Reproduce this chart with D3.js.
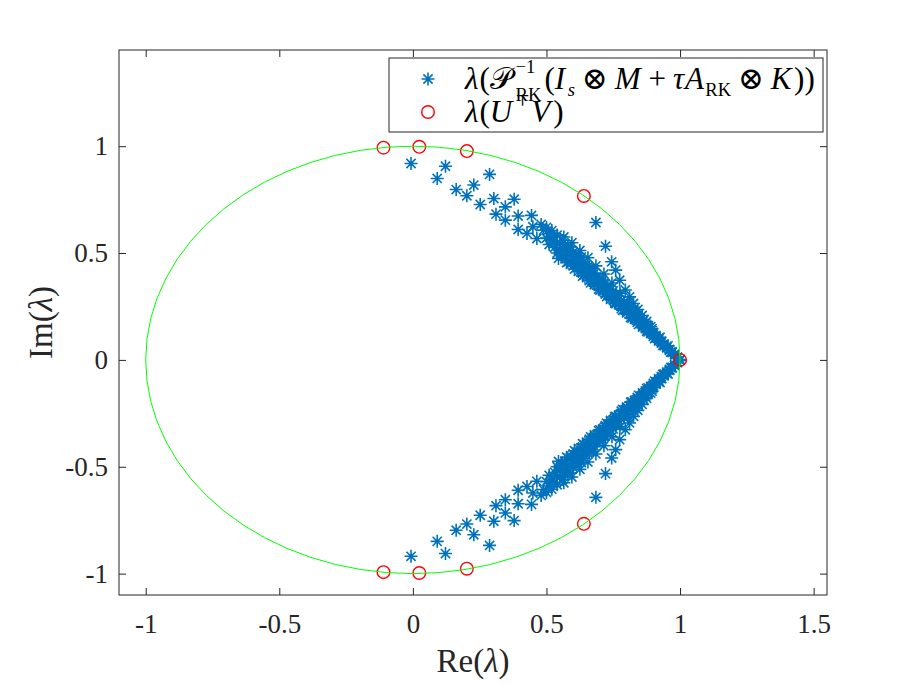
<!DOCTYPE html>
<html><head><meta charset="utf-8">
<script src="https://cdn.jsdelivr.net/npm/d3@7"></script>
<style>body{margin:0;background:#fff}svg{display:block}</style>
</head><body><svg id="c" width="913" height="685"></svg>
<script>
// ---------- data ----------
const xTicks = [-1, -0.5, 0, 0.5, 1, 1.5];
const yTicks = [-1, -0.5, 0, 0.5, 1];
const xDomain = [-1.1, 1.55];
const yDomain = [-1.1, 1.45];

// eigenvalues lambda(P_RK^{-1}(I_s (x) M + tau A_RK (x) K)), upper half-plane [Re, Im]
const starsUpper = [
[-0.007,0.919],[0.122,0.906],[0.091,0.849],[0.287,0.868],[0.162,0.797],[0.228,0.818],[0.202,0.768],[0.252,0.727],
[0.303,0.755],[0.346,0.716],[0.379,0.752],[0.311,0.682],[0.346,0.654],[0.394,0.673],[0.444,0.676],[0.394,0.610],
[0.449,0.623],[0.480,0.634],[0.427,0.592],[0.464,0.568],[0.524,0.579],[0.489,0.607],
[0.685,0.643],[0.721,0.532],[0.744,0.459],[0.759,0.420],[0.774,0.373],[0.795,0.327],[0.811,0.295],[0.826,0.264],
[0.842,0.236],[0.858,0.208],[0.875,0.180],[0.890,0.155],
[0.50,0.57],[0.50,0.62],[0.51,0.54],[0.51,0.59],[0.52,0.557],[0.52,0.605],[0.53,0.526],[0.53,0.573],
[0.54,0.50],[0.54,0.543],[0.54,0.584],[0.55,0.513],[0.55,0.549],[0.56,0.484],[0.56,0.524],[0.56,0.559],
[0.57,0.486],[0.57,0.529],[0.58,0.458],[0.58,0.491],[0.58,0.525],[0.59,0.459],[0.59,0.496],[0.59,0.529],
[0.60,0.44],[0.60,0.472],[0.60,0.504],[0.61,0.445],[0.61,0.48],[0.62,0.414],[0.62,0.445],[0.62,0.483],
[0.63,0.414],[0.63,0.448],[0.63,0.481],[0.64,0.396],[0.64,0.428],[0.64,0.461],[0.65,0.396],[0.65,0.431],
[0.66,0.371],[0.66,0.398],[0.66,0.428],[0.67,0.37],[0.67,0.399],[0.67,0.429],[0.68,0.352],[0.68,0.378],
[0.68,0.406],[0.69,0.353],[0.69,0.384],[0.70,0.327],[0.70,0.351],[0.70,0.378],[0.71,0.325],[0.71,0.351],
[0.71,0.374],[0.72,0.308],[0.72,0.333],[0.72,0.356],[0.73,0.305],[0.73,0.332],[0.74,0.283],[0.74,0.304],
[0.74,0.328],[0.75,0.28],[0.75,0.303],[0.75,0.323],[0.76,0.264],[0.76,0.286],[0.76,0.305],[0.77,0.262],
[0.77,0.283],[0.78,0.24],[0.78,0.257],[0.78,0.277],[0.79,0.235],[0.79,0.254],[0.79,0.271],[0.80,0.22],
[0.80,0.238],[0.80,0.254],[0.81,0.215],[0.81,0.234],[0.82,0.196],[0.82,0.212],[0.82,0.229],[0.83,0.19],
[0.83,0.207],[0.83,0.221],[0.84,0.176],[0.84,0.192],[0.84,0.205],[0.85,0.171],[0.85,0.186],[0.86,0.154],
[0.86,0.165],[0.86,0.178],[0.87,0.146],[0.87,0.159],[0.88,0.131],[0.88,0.143],[0.88,0.154],[0.89,0.124],
[0.89,0.136],[0.90,0.11],[0.90,0.12],[0.90,0.129],[0.91,0.103],[0.91,0.111],[0.92,0.088],[0.92,0.096],
[0.92,0.102],[0.93,0.079],[0.93,0.087],[0.94,0.066],[0.94,0.073],[0.95,0.057],[0.95,0.063],[0.96,0.045],
[0.96,0.049],[0.97,0.034],[0.97,0.038],[0.98,0.023],[0.98,0.026],[0.99,0.011],[0.99,0.013],[1.00,0.002],
[0.545,0.475],[0.575,0.455],[0.605,0.425],[0.635,0.392],[0.665,0.36],[0.695,0.331],[0.725,0.296],[0.755,0.266],
[0.785,0.232],[0.815,0.198],[0.845,0.166],[0.875,0.134],[0.905,0.10],[0.935,0.068],[0.965,0.036],
[0.565,0.575],[0.595,0.548],[0.625,0.512],[0.655,0.478],[0.685,0.44],[0.715,0.402],[0.745,0.36],[0.775,0.312],
[0.805,0.268],[0.835,0.228],[0.865,0.188],[0.895,0.146],[0.925,0.106],[0.955,0.066]
];
// lower half-plane (complex conjugates)
const starsLower = [
[-0.007,-0.919],[0.122,-0.906],[0.091,-0.849],[0.287,-0.868],[0.162,-0.797],[0.228,-0.818],[0.202,-0.768],[0.252,-0.727],
[0.303,-0.755],[0.346,-0.716],[0.379,-0.752],[0.311,-0.682],[0.346,-0.654],[0.394,-0.673],[0.444,-0.676],[0.394,-0.610],
[0.449,-0.623],[0.480,-0.634],[0.427,-0.592],[0.464,-0.568],[0.524,-0.579],[0.489,-0.607],
[0.685,-0.643],[0.721,-0.532],[0.744,-0.459],[0.759,-0.420],[0.774,-0.373],[0.795,-0.327],[0.811,-0.295],[0.826,-0.264],
[0.842,-0.236],[0.858,-0.208],[0.875,-0.180],[0.890,-0.155],
[0.50,-0.57],[0.50,-0.62],[0.51,-0.54],[0.51,-0.59],[0.52,-0.557],[0.52,-0.605],[0.53,-0.526],[0.53,-0.573],
[0.54,-0.50],[0.54,-0.543],[0.54,-0.584],[0.55,-0.513],[0.55,-0.549],[0.56,-0.484],[0.56,-0.524],[0.56,-0.559],
[0.57,-0.486],[0.57,-0.529],[0.58,-0.458],[0.58,-0.491],[0.58,-0.525],[0.59,-0.459],[0.59,-0.496],[0.59,-0.529],
[0.60,-0.44],[0.60,-0.472],[0.60,-0.504],[0.61,-0.445],[0.61,-0.48],[0.62,-0.414],[0.62,-0.445],[0.62,-0.483],
[0.63,-0.414],[0.63,-0.448],[0.63,-0.481],[0.64,-0.396],[0.64,-0.428],[0.64,-0.461],[0.65,-0.396],[0.65,-0.431],
[0.66,-0.371],[0.66,-0.398],[0.66,-0.428],[0.67,-0.37],[0.67,-0.399],[0.67,-0.429],[0.68,-0.352],[0.68,-0.378],
[0.68,-0.406],[0.69,-0.353],[0.69,-0.384],[0.70,-0.327],[0.70,-0.351],[0.70,-0.378],[0.71,-0.325],[0.71,-0.351],
[0.71,-0.374],[0.72,-0.308],[0.72,-0.333],[0.72,-0.356],[0.73,-0.305],[0.73,-0.332],[0.74,-0.283],[0.74,-0.304],
[0.74,-0.328],[0.75,-0.28],[0.75,-0.303],[0.75,-0.323],[0.76,-0.264],[0.76,-0.286],[0.76,-0.305],[0.77,-0.262],
[0.77,-0.283],[0.78,-0.24],[0.78,-0.257],[0.78,-0.277],[0.79,-0.235],[0.79,-0.254],[0.79,-0.271],[0.80,-0.22],
[0.80,-0.238],[0.80,-0.254],[0.81,-0.215],[0.81,-0.234],[0.82,-0.196],[0.82,-0.212],[0.82,-0.229],[0.83,-0.19],
[0.83,-0.207],[0.83,-0.221],[0.84,-0.176],[0.84,-0.192],[0.84,-0.205],[0.85,-0.171],[0.85,-0.186],[0.86,-0.154],
[0.86,-0.165],[0.86,-0.178],[0.87,-0.146],[0.87,-0.159],[0.88,-0.131],[0.88,-0.143],[0.88,-0.154],[0.89,-0.124],
[0.89,-0.136],[0.90,-0.11],[0.90,-0.12],[0.90,-0.129],[0.91,-0.103],[0.91,-0.111],[0.92,-0.088],[0.92,-0.096],
[0.92,-0.102],[0.93,-0.079],[0.93,-0.087],[0.94,-0.066],[0.94,-0.073],[0.95,-0.057],[0.95,-0.063],[0.96,-0.045],
[0.96,-0.049],[0.97,-0.034],[0.97,-0.038],[0.98,-0.023],[0.98,-0.026],[0.99,-0.011],[0.99,-0.013],[1.00,-0.002],
[0.545,-0.475],[0.575,-0.455],[0.605,-0.425],[0.635,-0.392],[0.665,-0.36],[0.695,-0.331],[0.725,-0.296],[0.755,-0.266],
[0.785,-0.232],[0.815,-0.198],[0.845,-0.166],[0.875,-0.134],[0.905,-0.10],[0.935,-0.068],[0.965,-0.036],
[0.565,-0.575],[0.595,-0.548],[0.625,-0.512],[0.655,-0.478],[0.685,-0.44],[0.715,-0.402],[0.745,-0.36],[0.775,-0.312],
[0.805,-0.268],[0.835,-0.228],[0.865,-0.188],[0.895,-0.146],[0.925,-0.106],[0.955,-0.066]
];
// eigenvalues lambda(U^T V)
const circleRe = [1.0, 0.640, 0.202, 0.024, -0.110, 0.640, 0.202, 0.024, -0.110];
const circleIm = [0.0, 0.767, 0.977, 0.997, 0.993, -0.767, -0.977, -0.997, -0.993];
// unit circle radius
const unitRadius = 1;

// ---------- drawing ----------
const svg = d3.select('#c');
const M = {l: 119, r: 827, t: 50, b: 595};
const x = d3.scaleLinear().domain(xDomain).range([M.l, M.r]);
const y = d3.scaleLinear().domain(yDomain).range([M.b, M.t]);
const AX = '#262626';
const FONT = '"Liberation Serif", "DejaVu Serif", serif';
const BLUE = '#0072BD';

svg.append('rect').attr('width', 913).attr('height', 685).attr('fill', '#fff');
svg.append('rect').attr('x', M.l).attr('y', M.t).attr('width', M.r - M.l).attr('height', M.b - M.t)
  .attr('fill', '#fff');

const starPath = s => {
  const d = s * 0.7071;
  return `M${-s},0H${s}M0,${-s}V${s}M${-d},${-d}L${d},${d}M${-d},${d}L${d},${-d}`;
};
const STAR = 6.5, STARW = 1.6;

const plot = svg.append('g');
const stars = starsUpper.concat(starsLower);
plot.selectAll('path.star').data(stars).join('path').attr('class', 'star')
  .attr('transform', d => `translate(${x(d[0])},${y(d[1])})`)
  .attr('d', starPath(STAR)).attr('stroke', BLUE).attr('stroke-width', STARW).attr('fill', 'none');

plot.selectAll('circle.ev').data(circleRe.map((r, i) => [r, circleIm[i]])).join('circle').attr('class', 'ev')
  .attr('cx', d => x(d[0])).attr('cy', d => y(d[1])).attr('r', 6.3)
  .attr('fill', 'none').attr('stroke', '#ff0000').attr('stroke-width', 1.4);

plot.append('ellipse')
  .attr('cx', x(0)).attr('cy', y(0))
  .attr('rx', x(unitRadius) - x(0)).attr('ry', y(0) - y(unitRadius))
  .attr('fill', 'none').attr('stroke', '#00ff00').attr('stroke-width', 1);

// axes
const fmt = d => String(d);
const tickFont = 27;
const gB = svg.append('g').attr('transform', `translate(0,${M.b})`)
  .call(d3.axisBottom(x).tickValues(xTicks).tickSize(-7).tickSizeOuter(0).tickPadding(19).tickFormat(fmt));
const gT = svg.append('g').attr('transform', `translate(0,${M.t})`)
  .call(d3.axisTop(x).tickValues(xTicks).tickSize(-7).tickSizeOuter(0).tickFormat(''));
const gL = svg.append('g').attr('transform', `translate(${M.l},0)`)
  .call(d3.axisLeft(y).tickValues(yTicks).tickSize(-7).tickSizeOuter(0).tickPadding(11).tickFormat(fmt));
const gR = svg.append('g').attr('transform', `translate(${M.r},0)`)
  .call(d3.axisRight(y).tickValues(yTicks).tickSize(-7).tickSizeOuter(0).tickFormat(''));
[gB, gT, gL, gR].forEach(g => {
  g.select('.domain').remove();
  g.selectAll('line').attr('stroke', AX).attr('stroke-width', 1);
  g.selectAll('text').attr('fill', AX).style('font-family', FONT).style('font-size', tickFont + 'px');
});
svg.append('rect').attr('x', M.l).attr('y', M.t).attr('width', M.r - M.l).attr('height', M.b - M.t)
  .attr('fill', 'none').attr('stroke', AX).attr('stroke-width', 1);

// axis labels
const labelFont = 33;
const xl = svg.append('text').attr('x', (M.l + M.r) / 2).attr('y', 672).attr('text-anchor', 'middle')
  .style('font-family', FONT).style('font-size', labelFont + 'px').attr('fill', AX);
xl.append('tspan').text('Re(');
xl.append('tspan').style('font-style', 'italic').text('λ');
xl.append('tspan').text(')');
const yl = svg.append('text').attr('transform', `translate(52,${(M.t + M.b) / 2}) rotate(-90)`)
  .attr('text-anchor', 'middle')
  .style('font-family', FONT).style('font-size', labelFont + 'px').attr('fill', AX);
yl.append('tspan').text('Im(');
yl.append('tspan').style('font-style', 'italic').text('λ');
yl.append('tspan').text(')');

// legend
const leg = svg.append('g');
leg.append('rect').attr('x', 389).attr('y', 58).attr('width', 434).attr('height', 74)
  .attr('fill', '#fff').attr('stroke', AX).attr('stroke-width', 1);
leg.append('path').attr('transform', 'translate(428,79)').attr('d', starPath(STAR))
  .attr('stroke', BLUE).attr('stroke-width', STARW).attr('fill', 'none');
leg.append('circle').attr('cx', 428).attr('cy', 112).attr('r', 6.3)
  .attr('fill', 'none').attr('stroke', '#ff0000').attr('stroke-width', 1.4);

function mathText(parent, x0, y0, pieces, size, sp) {
  const g = parent.append('g');
  let cx = x0;
  const put = (q, xx) => {
    const s = (q.s || 1) * size;
    const t = g.append('text').attr('x', xx).attr('y', y0 + (q.dy || 0) * size)
      .style('font-family', FONT).style('font-size', s + 'px').attr('fill', '#000')
      .style('font-style', q.i ? 'italic' : 'normal').text(q.t);
    return t.node().getComputedTextLength();
  };
  pieces.forEach(p => {
    cx += (p.op ? sp : 0) * size;
    if (p.stack) {
      let w = 0;
      p.stack.forEach(q => { w = Math.max(w, put(q, cx)); });
      cx += w;
    } else {
      cx += put(p, cx);
    }
    cx += ((p.kern || 0) + (p.op ? sp : 0)) * size;
  });
  return {g, w: cx - x0};
}
const legend1 = [
  {t: 'λ', i: true, kern: 0.03}, {t: '('}, {t: '𝒫', kern: 0.12},
  {stack: [{t: '−1', s: 0.6, dy: -0.5}, {t: 'RK', s: 0.6, dy: 0.4}], kern: 0.1},
  {t: '('}, {t: 'I', i: true, kern: 0.08}, {t: 's', i: true, s: 0.6, dy: 0.24},
  {t: '⊗', op: true}, {t: 'M', i: true, kern: 0.04}, {t: '+', op: true},
  {t: 'τ', i: true, kern: 0.03}, {t: 'A', i: true, kern: 0.04},
  {t: 'RK', s: 0.6, dy: 0.24}, {t: '⊗', op: true}, {t: 'K', i: true, kern: 0.08}, {t: '))'}
];
const legend2 = [
  {t: 'λ', i: true, kern: 0.03}, {t: '('}, {t: 'U', i: true, kern: 0.1}, {t: '⊤', s: 0.5, dy: -0.5, kern: 0.04},
  {t: 'V', i: true, kern: 0.1}, {t: ')'}
];
const target = 350;
const sp = 0.22;
let size = 28;
let r1 = mathText(leg, 465, 89, legend1, size, sp);
// scale the font so the formula spans the same width as in the reference
size = Math.max(24, Math.min(33, size * target / r1.w));
r1.g.remove();
r1 = mathText(leg, 465, 89, legend1, size, sp);
mathText(leg, 465, 122, legend2, size, sp);
</script>
</body></html>
